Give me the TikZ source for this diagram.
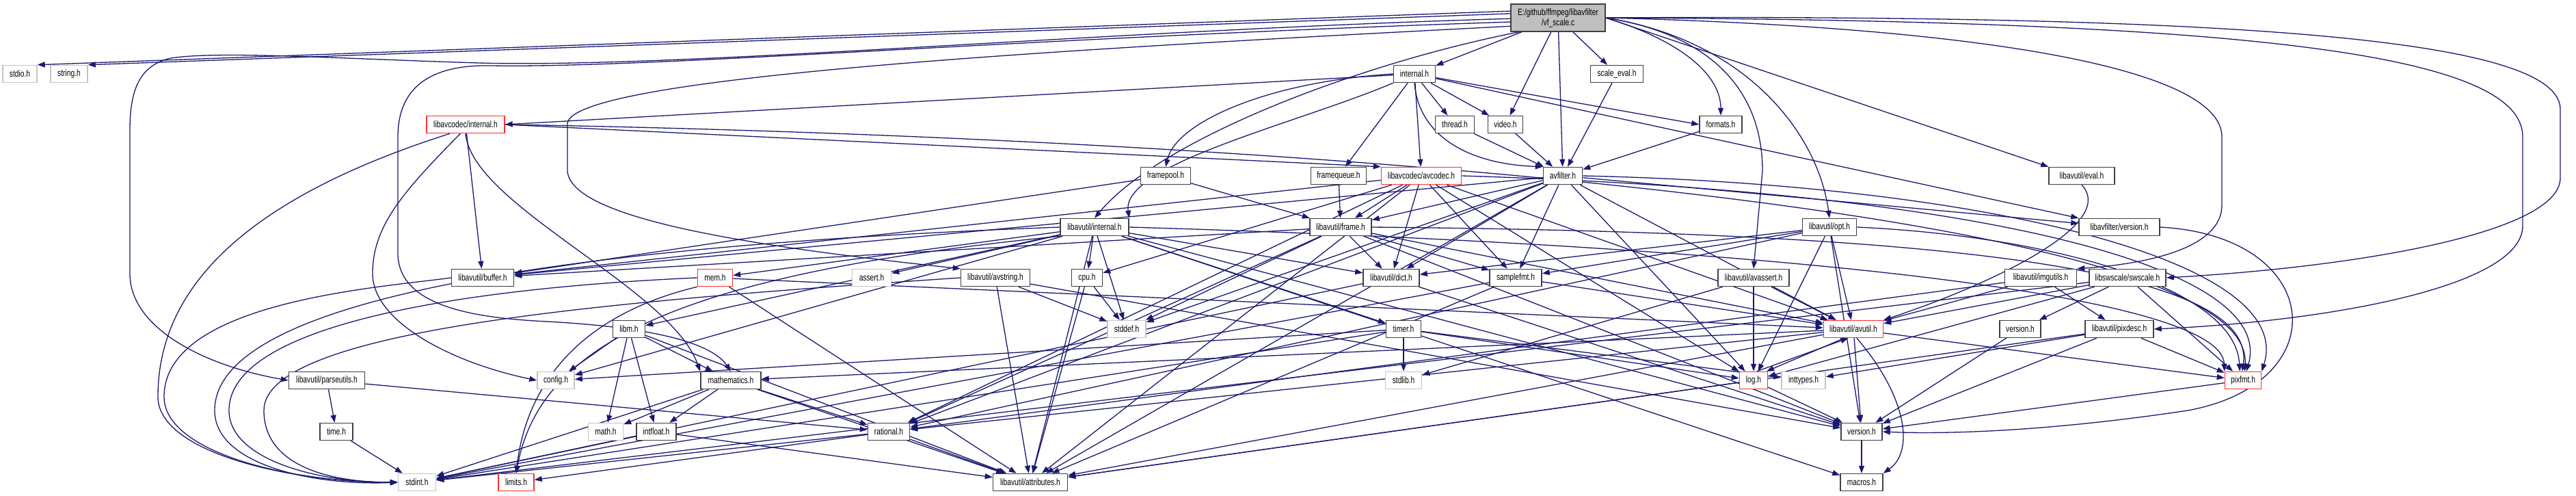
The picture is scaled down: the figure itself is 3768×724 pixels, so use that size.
\documentclass[tikz,border=0pt]{standalone}
\usepackage{fontspec}
\setmainfont{Liberation Sans}[FakeStretch=0.76]
\usetikzlibrary{arrows.meta,backgrounds}
\definecolor{edgec}{HTML}{191970}
\definecolor{fillg}{HTML}{BFBFBF}
\definecolor{bordc}{HTML}{404040}
\definecolor{redc}{HTML}{FF3030}
\definecolor{sysc}{HTML}{C4C4C4}
\begin{document}
\begin{tikzpicture}[x=1pt,y=-1pt,
  hbox/.style={draw=bordc,line width=1.5pt,fill=white,minimum height=25pt,inner sep=0pt,font=\fontsize{13.5}{15}\selectfont},
  rbox/.style={hbox,draw=redc},
  sbox/.style={hbox,draw=sysc},
  dep/.style={draw=edgec,line width=1.3pt,-{Triangle[length=11pt,width=8pt]}}]
\path[use as bounding box] (0,0) rectangle (3768,724);
% row 0
\node[hbox,fill=fillg,minimum width=138pt,minimum height=40pt,align=center] (vfs) at (2279,26) {E:/github/ffmpeg/libavfilter\\/vf\_scale.c};
% row 1
\node[sbox,minimum width=50pt] (stdio) at (29,108) {stdio.h};
\node[sbox,minimum width=54pt] (string) at (101,108) {string.h};
\node[hbox,minimum width=61pt] (lfint) at (2069,108) {internal.h};
\node[hbox,minimum width=77pt] (seval) at (2365,108) {scale\_eval.h};
% row 2
\node[rbox,minimum width=114pt] (lcint) at (681,182) {libavcodec/internal.h};
\node[hbox,minimum width=57pt] (thread) at (2128,182) {thread.h};
\node[hbox,minimum width=51pt] (video) at (2202,182) {video.h};
\node[hbox,minimum width=62pt] (formats) at (2517,182) {formats.h};
% row 3
\node[hbox,minimum width=73pt] (fpool) at (1705,257) {framepool.h};
\node[hbox,minimum width=81pt] (fqueue) at (1958,257) {framequeue.h};
\node[rbox,minimum width=117pt] (avcodec) at (2079,257) {libavcodec/avcodec.h};
\node[hbox,minimum width=57pt] (avfilter) at (2286,257) {avfilter.h};
\node[hbox,minimum width=96pt] (eval) at (3045,257) {libavutil/eval.h};
% row 4
\node[hbox,minimum width=100pt] (luint) at (1601,332) {libavutil/internal.h};
\node[hbox,minimum width=90pt] (frame) at (1961,332) {libavutil/frame.h};
\node[hbox,minimum width=79pt] (opt) at (2676,332) {libavutil/opt.h};
\node[hbox,minimum width=118pt] (lfver) at (3100,332) {libavfilter/version.h};
% row 5
\node[hbox,minimum width=91pt] (buffer) at (706,406) {libavutil/buffer.h};
\node[rbox,minimum width=51pt] (mem) at (1046,406) {mem.h};
\node[sbox,minimum width=57pt] (assert) at (1275,406) {assert.h};
\node[hbox,minimum width=101pt] (avstring) at (1456,406) {libavutil/avstring.h};
\node[hbox,minimum width=45pt] (cpu) at (1590,406) {cpu.h};
\node[hbox,minimum width=82pt] (dict) at (2035,406) {libavutil/dict.h};
\node[hbox,minimum width=76pt] (sfmt) at (2217,406) {samplefmt.h};
\node[hbox,minimum width=104pt] (avassert) at (2565,406) {libavutil/avassert.h};
\node[hbox,minimum width=105pt] (imgutils) at (2985,406) {libavutil/imgutils.h};
\node[hbox,minimum width=112pt] (swscale) at (3112,406) {libswscale/swscale.h};
% row 6
\node[hbox,minimum width=47pt] (libm) at (920,481) {libm.h};
\node[sbox,minimum width=56pt] (stddef) at (1648,481) {stddef.h};
\node[hbox,minimum width=51pt] (timer) at (2053,481) {timer.h};
\node[rbox,minimum width=87pt] (avutil) at (2711,481) {libavutil/avutil.h};
\node[hbox,minimum width=60pt] (swsver) at (2955,481) {version.h};
\node[hbox,minimum width=100pt] (pixdesc) at (3100,481) {libavutil/pixdesc.h};
% row 7
\node[hbox,minimum width=111pt] (parse) at (478,556) {libavutil/parseutils.h};
\node[sbox,minimum width=54pt] (config) at (813,556) {config.h};
\node[hbox,minimum width=88pt] (mathh) at (1069,556) {mathematics.h};
\node[sbox,minimum width=53pt] (stdlib) at (2053,556) {stdlib.h};
\node[rbox,minimum width=41pt] (log) at (2565,556) {log.h};
\node[sbox,minimum width=64pt] (inttypes) at (2638,556) {inttypes.h};
\node[rbox,minimum width=53pt] (pixfmt) at (3281,556) {pixfmt.h};
% row 8
\node[hbox,minimum width=48pt] (time) at (492,631) {time.h};
\node[sbox,minimum width=51pt] (math) at (886,631) {math.h};
\node[hbox,minimum width=58pt] (intfloat) at (960,631) {intfloat.h};
\node[hbox,minimum width=61pt] (rational) at (1300,631) {rational.h};
\node[hbox,minimum width=60pt] (version) at (2723,631) {version.h};
% row 9
\node[sbox,minimum width=55pt] (stdint) at (610,705) {stdint.h};
\node[rbox,minimum width=52pt] (limits) at (755,705) {limits.h};
\node[hbox,minimum width=109pt] (attrib) at (1507,705) {libavutil/attributes.h};
\node[hbox,minimum width=62pt] (macros) at (2723,705) {macros.h};

\begin{scope}[on background layer]
\fill[white] (0,0) rectangle (3768,724);
% vf_scale.c
\draw[dep] (vfs.172) -- (stdio.north east);
\draw[dep] (vfs.175) -- (string.north east);
\draw[dep] (vfs.181) .. controls (1600,45) and (1000,100) .. (700,92) .. controls (500,86) and (320,74) .. (250,85) .. controls (205,95) and (190,130) .. (190,190) -- (190,400) .. controls (190,480) and (300,535) .. (parse.west);
\draw[dep] (vfs.185) .. controls (1500,55) and (950,100) .. (720,96) .. controls (640,94) and (582,120) .. (582,200) -- (582,370) .. controls (582,450) and (700,465) .. (800,470) .. controls (950,478) and (1040,500) .. (mathh.north);
\draw[dep] (vfs.190) .. controls (1600,70) and (840,110) .. (830,180) -- (830,250) .. controls (835,320) and (1100,360) .. (avstring.north west);
\draw[dep] (vfs.200) .. controls (2000,90) and (1700,200) .. (luint.north);
\draw[dep] (vfs) -- (lfint);
\draw[dep] (vfs) -- (video);
\draw[dep] (vfs) -- (avfilter);
\draw[dep] (vfs) -- (seval);
\draw[dep] (vfs.east) .. controls (2460,60) and (2517,110) .. (formats.north);
\draw[dep] (vfs.east) .. controls (2560,60) and (2660,200) .. (opt.north);
\draw[dep] (vfs.east) .. controls (2500,50) and (2578,130) .. (2578,250) -- (avassert.north);
\draw[dep] (vfs.east) -- (eval.north west);
\draw[dep] (vfs.east) .. controls (2900,40) and (3250,100) .. (3250,200) -- (3250,300) .. controls (3250,360) and (3150,385) .. (imgutils.north east);
\draw[dep] (vfs.east) .. controls (3300,30) and (3690,80) .. (3690,200) -- (3690,330) .. controls (3690,420) and (3400,470) .. (pixdesc.east);
\draw[dep] (vfs.east) .. controls (3400,20) and (3745,70) .. (3745,160) -- (3745,260) .. controls (3745,340) and (3450,390) .. (swscale.east);
% libavfilter/internal.h
\draw[dep] (lfint) -- (lcint.east);
\draw[dep] (lfint.south west) .. controls (1900,180) and (1640,240) .. (luint.north east);
\draw[dep] (lfint.west) .. controls (1850,120) and (1720,180) .. (fpool.north);
\draw[dep] (lfint) -- (fqueue);
\draw[dep] (lfint) -- (avcodec);
\draw[dep] (lfint) -- (thread);
\draw[dep] (lfint) -- (video);
\draw[dep] (lfint.south) .. controls (2075,200) and (2150,240) .. (avfilter.north west);
\draw[dep] (lfint) -- (formats.west);
\draw[dep] (lfint) -- (lfver.north west);
\draw[dep] (seval) -- (avfilter);
\draw[dep] (thread) -- (avfilter);
\draw[dep] (video) -- (avfilter);
\draw[dep] (formats) -- (avfilter);
% libavcodec/internal.h
\draw[dep] (lcint.east) -- (avcodec.north west);
\draw[dep] (lcint) -- (buffer);
\draw[dep] (lcint.240) .. controls (590,280) and (545,330) .. (545,400) .. controls (545,470) and (660,530) .. (config.west);
\draw[dep] (lcint.270) .. controls (690,300) and (980,420) .. (mathh.north west);
\draw[dep] (lcint.210) .. controls (360,290) and (231,420) .. (231,580) .. controls (231,660) and (420,705) .. (stdint.west);
\draw[dep] (lcint.east) .. controls (1800,200) and (3300,300) .. (pixfmt.80);
% framepool, framequeue
\draw[dep] (fpool) -- (buffer);
\draw[dep] (fpool) -- (frame);
\draw[dep] (fqueue) -- (frame);
% avcodec
\draw[dep] (avcodec) -- (sfmt);
\draw[dep] (avcodec) -- (attrib);
\draw[dep] (avcodec) -- (avutil);
\draw[dep] (avcodec) -- (buffer);
\draw[dep] (avcodec) -- (cpu);
\draw[dep] (avcodec) -- (dict);
\draw[dep] (avcodec) -- (frame);
\draw[dep] (avcodec) -- (log);
\draw[dep] (avcodec) -- (rational);
\draw[dep] (avcodec.east) .. controls (2900,280) and (3330,390) .. (pixfmt.70);
% avfilter
\draw[dep] (avfilter) -- (stddef);
\draw[dep] (avfilter) -- (attrib);
\draw[dep] (avfilter) -- (avutil);
\draw[dep] (avfilter) -- (buffer);
\draw[dep] (avfilter) -- (dict);
\draw[dep] (avfilter) -- (frame);
\draw[dep] (avfilter) -- (log);
\draw[dep] (avfilter) -- (sfmt);
\draw[dep] (avfilter) -- (rational);
\draw[dep] (avfilter) -- (lfver);
\draw[dep] (avfilter.east) .. controls (2900,270) and (3360,380) .. (pixfmt.north east);
% eval
\draw[dep] (eval.south) .. controls (3100,330) and (2900,420) .. (avutil.north east);
% libavutil/internal.h
\draw[dep] (luint.south west) .. controls (1000,400) and (790,500) .. (limits.north);
\draw[dep] (luint.west) .. controls (800,360) and (314,440) .. (314,600) .. controls (314,680) and (460,710) .. (stdint.west);
\draw[dep] (luint) -- (stddef);
\draw[dep] (luint) -- (assert);
\draw[dep] (luint) -- (config);
\draw[dep] (luint) -- (attrib);
\draw[dep] (luint) -- (timer);
\draw[dep] (luint) -- (cpu);
\draw[dep] (luint) -- (dict);
\draw[dep] (luint) -- (macros);
\draw[dep] (luint) -- (mem);
\draw[dep] (luint) -- (version);
\draw[dep] (luint) -- (libm);
\draw[dep] (luint.east) .. controls (2600,360) and (3250,430) .. (pixfmt.north west);
% frame
\draw[dep] (frame) -- (stddef);
\draw[dep] (frame) -- (avutil);
\draw[dep] (frame) -- (buffer);
\draw[dep] (frame) -- (dict);
\draw[dep] (frame) -- (rational);
\draw[dep] (frame) -- (sfmt);
\draw[dep] (frame) -- (version);
\draw[dep] (frame.east) .. controls (2900,340) and (3300,400) .. (pixfmt.95);
% opt
\draw[dep] (opt) -- (rational);
\draw[dep] (opt) -- (avutil);
\draw[dep] (opt) -- (dict);
\draw[dep] (opt) -- (log);
\draw[dep] (opt) -- (sfmt);
\draw[dep] (opt) -- (version);
\draw[dep] (opt.east) .. controls (3000,345) and (3270,420) .. (pixfmt.110);
% libavfilter/version.h
\draw[dep] (lfver.east) .. controls (3400,345) and (3420,560) .. (3200,600) .. controls (3000,630) and (2850,635) .. (version.east);
% buffer, mem
\draw[dep] (buffer.west) .. controls (560,420) and (240,440) .. (240,580) .. controls (240,660) and (420,705) .. (stdint.west);
\draw[dep] (mem.south west) .. controls (850,460) and (770,560) .. (limits.north);
\draw[dep] (mem.west) .. controls (700,420) and (335,470) .. (335,600) .. controls (335,670) and (460,705) .. (stdint.west);
\draw[dep] (mem) -- (attrib);
\draw[dep] (mem) -- (avutil);
% avstring, cpu
\draw[dep] (avstring) -- (stddef);
\draw[dep] (avstring.west) .. controls (900,440) and (386,480) .. (386,600) .. controls (386,680) and (480,705) .. (stdint.west);
\draw[dep] (avstring) -- (attrib);
\draw[dep] (avstring) -- (version);
\draw[dep] (cpu) -- (stddef);
\draw[dep] (cpu) -- (attrib);
% dict, samplefmt
\draw[dep] (dict) -- (stdint);
\draw[dep] (dict) -- (version);
\draw[dep] (sfmt) -- (stdint);
\draw[dep] (sfmt) -- (avutil);
\draw[dep] (sfmt) -- (attrib);
% avassert
\draw[dep] (avassert) -- (stdlib);
\draw[dep] (avassert) -- (avutil);
\draw[dep] (avassert) -- (log);
% imgutils
\draw[dep] (imgutils) -- (avutil);
\draw[dep] (imgutils) -- (pixdesc);
\draw[dep] (imgutils) -- (rational);
% swscale
\draw[dep] (swscale) -- (stdint);
\draw[dep] (swscale) -- (avutil);
\draw[dep] (swscale) -- (log);
\draw[dep] (swscale) -- (pixfmt);
\draw[dep] (swscale) -- (swsver);
% libm
\draw[dep] (libm) -- (math);
\draw[dep] (libm) -- (config);
\draw[dep] (libm) -- (attrib);
\draw[dep] (libm) -- (intfloat);
\draw[dep] (libm) -- (mathh);
% timer
\draw[dep] (timer) -- (config);
\draw[dep] (timer) -- (stdlib);
\draw[dep] (timer) -- (stdint);
\draw[dep] (timer) -- (inttypes);
\draw[dep] (timer) -- (log);
% avutil
\draw[dep] (avutil) -- (attrib);
\draw[dep] (avutil.290) .. controls (2790,580) and (2800,660) .. (macros.north east);
\draw[dep] (avutil) -- (version);
\draw[dep] (avutil) -- (rational);
\draw[dep] (avutil) -- (mathh);
\draw[dep] (avutil.225) -- (log.35);
\draw[dep] (avutil) -- (pixfmt);
% log
\draw[dep] (log.70) -- (avutil.240);
\draw[dep] (log) -- (attrib);
\draw[dep] (log) -- (version);
% swscale version, pixdesc
\draw[dep] (swsver) -- (version);
\draw[dep] (pixdesc) -- (inttypes);
\draw[dep] (pixdesc) -- (attrib);
\draw[dep] (pixdesc) -- (pixfmt);
\draw[dep] (pixdesc) -- (version);
% parseutils, mathematics
\draw[dep] (parse) -- (time);
\draw[dep] (parse) -- (rational);
\draw[dep] (mathh) -- (stdint);
\draw[dep] (mathh) -- (math);
\draw[dep] (mathh) -- (attrib);
\draw[dep] (mathh) -- (rational);
\draw[dep] (mathh) -- (intfloat);
% time, intfloat, rational, version, pixfmt
\draw[dep] (time) -- (stdint);
\draw[dep] (intfloat) -- (stdint);
\draw[dep] (intfloat) -- (attrib);
\draw[dep] (rational) -- (stdint);
\draw[dep] (rational) -- (limits);
\draw[dep] (rational) -- (attrib);
\draw[dep] (version) -- (macros);
\draw[dep] (pixfmt) -- (version);
\end{scope}
\end{tikzpicture}
\end{document}
